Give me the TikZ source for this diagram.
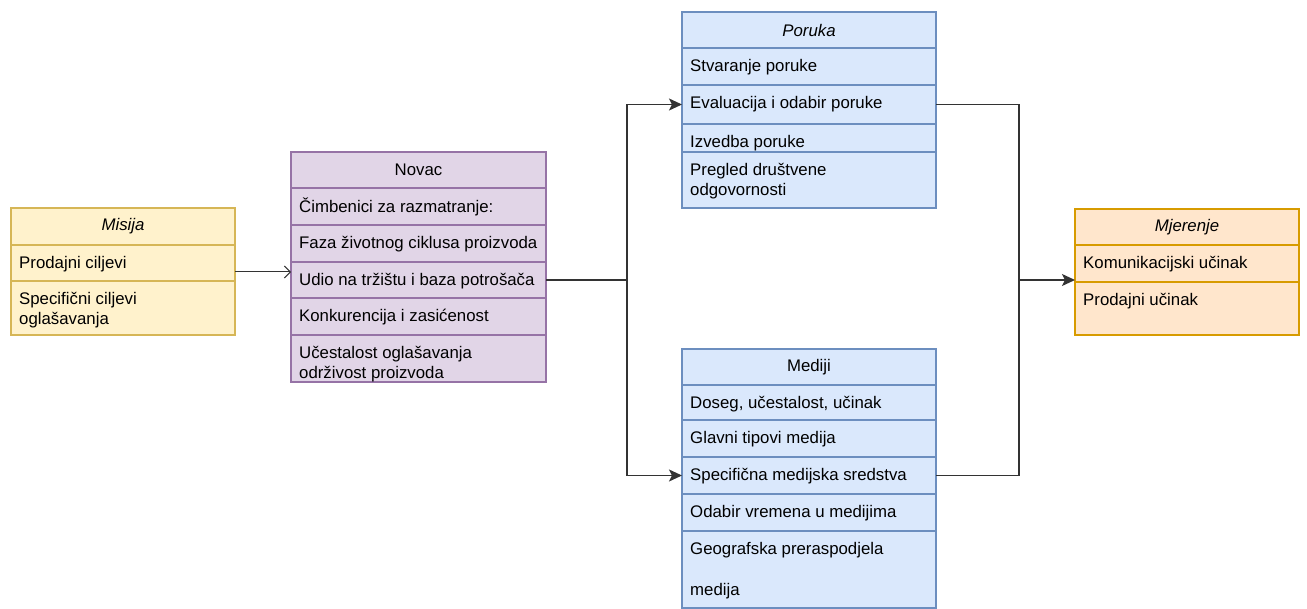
\documentclass[tikz,border=0pt]{standalone}
\usepackage{fontspec}
\setmainfont{Liberation Sans}
\usetikzlibrary{arrows.meta,calc}
\definecolor{yfill}{HTML}{FFF2CC}\definecolor{ydraw}{HTML}{D6B656}
\definecolor{pfill}{HTML}{E1D5E7}\definecolor{pdraw}{HTML}{9673A6}
\definecolor{bfill}{HTML}{DAE8FC}\definecolor{bdraw}{HTML}{6C8EBF}
\definecolor{ofill}{HTML}{FFE6CC}\definecolor{odraw}{HTML}{D79B00}
\definecolor{edge}{HTML}{333333}
\newcommand\rowfont{\fontsize{16.8}{20}\selectfont}
\newcommand\cellnode[7]{\node[cell, fill=#6, draw=#7, minimum width=#4pt, minimum height=#5pt] (#1) at (#2,#3) {};}
\newcommand\celltext[2]{\node[rowtext] (#1t) at ($(#1.north west)+(8,9.4)$) {#2};}
\newcommand\headtext[2]{\node[hdr] (#1t) at (#1.center) {#2};}
\tikzset{
  cell/.style={rectangle, anchor=north west, inner sep=0pt, outer sep=0pt, line width=1.3pt},
  rowtext/.style={anchor=north west, inner sep=0pt, align=left, font=\rowfont, text=black},
  hdr/.style={inner sep=0pt, font=\rowfont, text=black},
  arr/.style={draw=edge, line width=1.4pt, -{Stealth[length=13pt,width=12pt,inset=3pt]}},
  openarr/.style={draw=edge, line width=1pt, -{Straight Barb[length=6pt,width=12pt,line width=1pt]}},
  plain/.style={draw=edge, line width=1.4pt}
}
\begin{document}
\begin{tikzpicture}[x=1pt,y=-1pt]
\path[use as bounding box] (0,0) rectangle (1307,609);

% Misija
\cellnode{mh}{11}{208}{224}{37}{yfill}{ydraw}
\cellnode{m1}{11}{245}{224}{36}{yfill}{ydraw}
\cellnode{m2}{11}{281}{224}{54}{yfill}{ydraw}
\headtext{mh}{\textit{Misija}}
\celltext{m1}{\strut Prodajni ciljevi}
\celltext{m2}{\strut Specifični ciljevi\\\strut oglašavanja}

% Novac
\cellnode{nh}{291}{152}{255}{36}{pfill}{pdraw}
\cellnode{n1}{291}{188}{255}{37}{pfill}{pdraw}
\cellnode{n2}{291}{225}{255}{37}{pfill}{pdraw}
\cellnode{n3}{291}{262}{255}{36}{pfill}{pdraw}
\cellnode{n4}{291}{298}{255}{37}{pfill}{pdraw}
\cellnode{n5}{291}{335}{255}{47}{pfill}{pdraw}
\headtext{nh}{Novac}
\celltext{n1}{\strut Čimbenici za razmatranje:}
\celltext{n2}{\strut Faza životnog ciklusa proizvoda}
\celltext{n3}{\strut Udio na tržištu i baza potrošača}
\celltext{n4}{\strut Konkurencija i zasićenost}
\celltext{n5}{\strut Učestalost oglašavanja\\\strut održivost proizvoda}

% Poruka
\cellnode{ph}{682}{12}{254}{36}{bfill}{bdraw}
\cellnode{p1}{682}{48}{254}{37}{bfill}{bdraw}
\cellnode{p2}{682}{85}{254}{39}{bfill}{bdraw}
\cellnode{p3}{682}{124}{254}{28}{bfill}{bdraw}
\cellnode{p4}{682}{152}{254}{56}{bfill}{bdraw}
\headtext{ph}{\textit{Poruka}}
\celltext{p1}{\strut Stvaranje poruke}
\celltext{p2}{\strut Evaluacija i odabir poruke}
\celltext{p3}{\strut Izvedba poruke}
\celltext{p4}{\strut Pregled društvene\\\strut odgovornosti}

% Mediji
\cellnode{dh}{682}{349}{254}{36}{bfill}{bdraw}
\cellnode{d1}{682}{385}{254}{35}{bfill}{bdraw}
\cellnode{d2}{682}{420}{254}{37}{bfill}{bdraw}
\cellnode{d3}{682}{457}{254}{37}{bfill}{bdraw}
\cellnode{d4}{682}{494}{254}{37}{bfill}{bdraw}
\cellnode{d5}{682}{531}{254}{77}{bfill}{bdraw}
\headtext{dh}{Mediji}
\celltext{d1}{\strut Doseg, učestalost, učinak}
\celltext{d2}{\strut Glavni tipovi medija}
\celltext{d3}{\strut Specifična medijska sredstva}
\celltext{d4}{\strut Odabir vremena u medijima}
\celltext{d5}{\strut Geografska preraspodjela\\[21pt]\strut medija}

% Mjerenje
\cellnode{jh}{1075}{209}{224}{36}{ofill}{odraw}
\cellnode{j1}{1075}{245}{224}{37}{ofill}{odraw}
\cellnode{j2}{1075}{282}{224}{53}{ofill}{odraw}
\headtext{jh}{\textit{Mjerenje}}
\celltext{j1}{\strut Komunikacijski učinak}
\celltext{j2}{\strut Prodajni učinak}

% connectors
\draw[openarr] ([yshift=-9pt]m1.east) -- ([yshift=-9pt]m1.east -| n3.west);
\coordinate (jl) at ($(n3.east)+(81,0)$);
\draw[arr] (n3.east) -- (jl) |- (p2.west);
\draw[arr] (jl) |- (d3.west);
\coordinate (jr) at ($(p2.east)+(83,0)$);
\coordinate (jt) at ([yshift=2pt]j1.south west);
\draw[arr] (p2.east) -| (jr |- jt) -- (jt);
\draw[plain] (d3.east) -| (jr |- jt);
\end{tikzpicture}
\end{document}
